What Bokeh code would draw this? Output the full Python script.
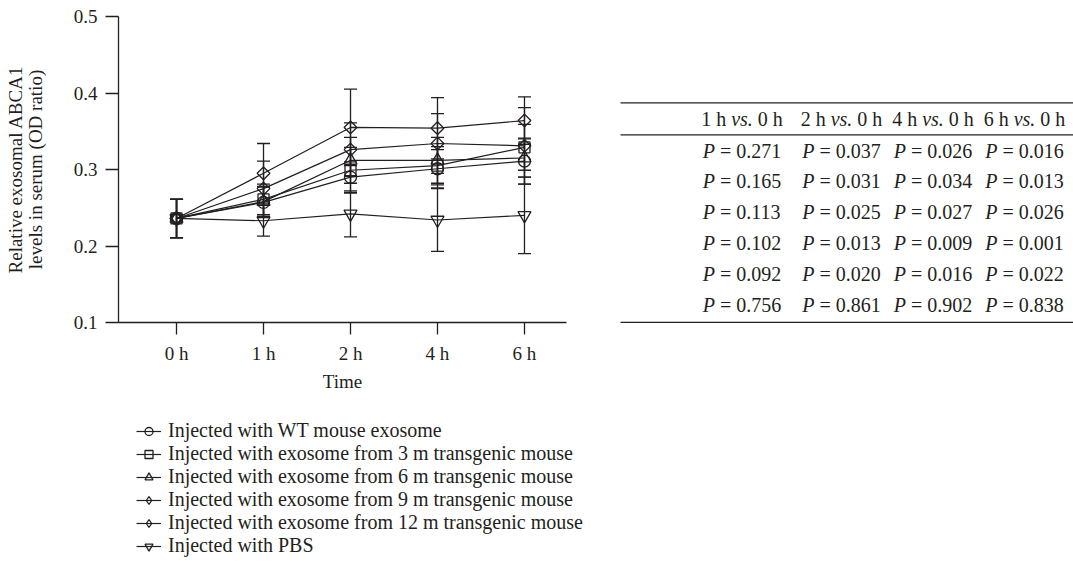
import math
from bokeh.plotting import figure
from bokeh.models import (ColumnDataSource, Whisker, TeeHead, Legend, LegendItem,
                          Range1d, FixedTicker)
from bokeh.layouts import row, column
from bokeh.core.properties import value
from bokeh.embed import file_html
from bokeh.resources import INLINE

# ---------------- data ----------------
times = ["0 h", "1 h", "2 h", "4 h", "6 h"]
labels = [
    "Injected with WT mouse exosome",
    "Injected with exosome from 3 m transgenic mouse",
    "Injected with exosome from 6 m transgenic mouse",
    "Injected with exosome from 9 m transgenic mouse",
    "Injected with exosome from 12 m transgenic mouse",
    "Injected with PBS",
]
wt_mean = [0.236, 0.257, 0.290, 0.301, 0.311]
m3_mean = [0.236, 0.261, 0.299, 0.305, 0.329]
m6_mean = [0.236, 0.258, 0.312, 0.312, 0.315]
m9_mean = [0.236, 0.295, 0.355, 0.354, 0.364]
m12_mean = [0.236, 0.275, 0.326, 0.334, 0.331]
pbs_mean = [0.236, 0.233, 0.242, 0.234, 0.240]

wt_err = [0.025, 0.020, 0.020, 0.025, 0.030]
m3_err = [0.025, 0.020, 0.030, 0.025, 0.030]
m6_err = [0.025, 0.020, 0.030, 0.030, 0.025]
m9_err = [0.025, 0.039, 0.050, 0.040, 0.031]
m12_err = [0.025, 0.036, 0.035, 0.039, 0.050]
pbs_err = [0.025, 0.020, 0.030, 0.041, 0.050]

y_ticks = [0.1, 0.2, 0.3, 0.4, 0.5]

comparisons = ["1 h", "2 h", "4 h", "6 h"]
p_1h = ["0.271", "0.165", "0.113", "0.102", "0.092", "0.756"]
p_2h = ["0.037", "0.031", "0.025", "0.013", "0.020", "0.861"]
p_4h = ["0.026", "0.034", "0.027", "0.009", "0.016", "0.902"]
p_6h = ["0.016", "0.013", "0.026", "0.001", "0.022", "0.838"]

# ---------------- styles ----------------
FONT = "Liberation Serif"
INK = "#231f20"
# (mean, err, chart marker, size, angle, legend marker, legend size)
series = [
    (wt_mean, wt_err, "circle", 12, 0.0, "circle", 12),
    (m3_mean, m3_err, "square", 11, 0.0, "square", 11),
    (m6_mean, m6_err, "triangle", 13, 0.0, "triangle", 13),
    (m9_mean, m9_err, "square", 9, math.pi / 4, "diamond", 19),
    (m12_mean, m12_err, "square", 9, math.pi / 4, "diamond", 19),
    (pbs_mean, pbs_err, "inverted_triangle", 13, 0.0, "inverted_triangle", 13),
]

W1, H = 600, 560
H1 = 400           # chart panel height
BL, BR, BT = 118, 34, 16
FRAME_BOTTOM = 322

p = figure(width=W1, height=H1, output_backend="svg", toolbar_location=None,
           x_range=Range1d(-0.667, 4.483), y_range=Range1d(0.1, 0.5),
           min_border_left=BL, min_border_right=BR, min_border_top=BT,
           min_border_bottom=H1 - FRAME_BOTTOM)
p.grid.visible = False
p.outline_line_color = None
p.background_fill_color = None

# legend panel below the chart
lf = figure(width=W1, height=H - H1, output_backend="svg", toolbar_location=None,
            x_range=Range1d(-0.667, 4.483), y_range=Range1d(10, 11),
            x_axis_location=None, y_axis_location=None,
            min_border_left=BL, min_border_right=0, min_border_top=0,
            min_border_bottom=0)
lf.grid.visible = False
lf.outline_line_color = None

xs = list(range(len(times)))
items = []
for (mean, err, mk, sz, ang, lmk, lsz), lab in zip(series, labels):
    src = ColumnDataSource(dict(x=xs, y=mean,
                                upper=[m + e for m, e in zip(mean, err)],
                                lower=[m - e for m, e in zip(mean, err)]))
    w = Whisker(base="x", upper="upper", lower="lower", source=src,
                line_color=INK, line_width=1.3,
                upper_head=TeeHead(size=13, line_color=INK, line_width=1.3),
                lower_head=TeeHead(size=13, line_color=INK, line_width=1.3))
    p.add_layout(w)
    line_kw = dict(line_color=INK, line_width=1.2)
    mk_kw = dict(line_color=INK, line_width=1.3, fill_color="white", fill_alpha=0.0)
    p.line("x", "y", source=src, **line_kw)
    p.scatter("x", "y", source=src, marker=mk, size=sz, angle=ang, **mk_kw)
    # same series in the legend panel (off its ranges) to key the legend
    lr = lf.line("x", "y", source=src, **line_kw)
    sr = lf.scatter("x", "y", source=src, marker=lmk, size=lsz, **mk_kw)
    items.append(LegendItem(label=lab, renderers=[lr, sr]))

# axes
p.xaxis.ticker = FixedTicker(ticks=xs)
p.xaxis.major_label_overrides = {i: t for i, t in enumerate(times)}
p.yaxis.ticker = FixedTicker(ticks=y_ticks)
p.xaxis.axis_label = "Time"
p.yaxis.axis_label = "Relative exosomal ABCA1\nlevels in serum (OD ratio)"
for ax in (p.xaxis[0], p.yaxis[0]):
    ax.axis_line_color = INK
    ax.axis_line_width = 1.3
    ax.major_tick_line_color = INK
    ax.major_tick_line_width = 1.3
    ax.major_tick_in = 0
    ax.minor_tick_line_color = None
    ax.major_label_text_font = FONT
    ax.major_label_text_font_size = "19px"
    ax.major_label_text_color = INK
    ax.major_label_standoff = 8
    ax.axis_label_text_font = FONT
    ax.axis_label_text_font_size = "19px"
    ax.axis_label_text_font_style = "normal"
    ax.axis_label_text_color = INK
    ax.axis_label_text_line_height = 0.95
p.xaxis.major_tick_out = 12
p.yaxis.major_tick_out = 13
p.xaxis.axis_label_standoff = 4
p.yaxis.axis_label_standoff = 25

legend = Legend(items=items, location=(18, 3))
legend.label_text_font = FONT
legend.label_text_font_size = "20px"
legend.label_text_color = INK
legend.glyph_width = 25
legend.glyph_height = 20
legend.label_height = 20
legend.label_standoff = 7
legend.spacing = 0
legend.padding = 0
legend.margin = 0
legend.border_line_color = None
legend.background_fill_alpha = 0.0
lf.add_layout(legend, "center")

# ---------------- table (data units = page pixels) ----------------
W2 = 473
X0 = W1
t = figure(width=W2, height=H, output_backend="svg", toolbar_location=None,
           x_range=Range1d(X0, X0 + W2), y_range=Range1d(H, 0),
           x_axis_location=None, y_axis_location=None, min_border=0)
t.grid.visible = False
t.outline_line_color = None

col_c = [741.5, 841, 932.5, 1024]
rule_y = [102.3, 134.3, 321.8]
head_y = 118.3
row_y0, row_dy = 150.0, 30.85

t.segment(x0=[620] * 3, y0=rule_y, x1=[X0 + W2] * 3, y1=rule_y,
          line_color=INK, line_width=1.3)

FS = 20
hx1, hx2, hx3, hy, ht1, ht3 = [], [], [], [], [], []
for c, cmp in zip(col_c, comparisons):
    left = c - 40.85
    hx1.append(left)
    hx2.append(left + 1.5 * FS)
    hx3.append(left + 1.5 * FS + 1.083 * FS + 0.25 * FS)
    hy.append(head_y)
    ht1.append(cmp)
    ht3.append("0 h")
common = dict(text_font=value(FONT), text_font_size=f"{FS}px", text_color=INK,
              text_baseline="middle", text_align="left")
t.text(x=hx1, y=hy, text=ht1, **common)
t.text(x=hx2, y=hy, text=["vs."] * 4, text_font_style="italic", **common)
t.text(x=hx3, y=hy, text=ht3, **common)

px_, py_, pt_ = [], [], []
for ci, col in enumerate([p_1h, p_2h, p_4h, p_6h]):
    for ri, val in enumerate(col):
        px_.append(col_c[ci] - 39.25)
        py_.append(row_y0 + ri * row_dy)
        pt_.append("= " + val)
t.text(x=px_, y=py_, text=["P"] * len(px_), text_font_style="italic", **common)
t.text(x=[x + 0.611 * FS + 0.25 * FS for x in px_], y=py_, text=pt_, **common)

layout = row(column(p, row(lf)), t)
open("out.html", "w").write(file_html(layout, INLINE))
